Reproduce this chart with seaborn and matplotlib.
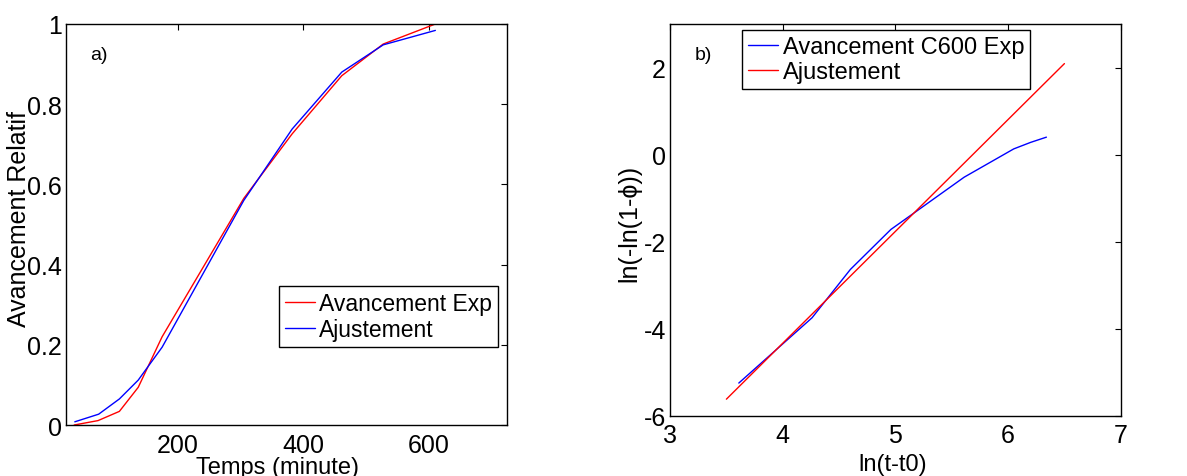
import matplotlib
matplotlib.use("Agg")
import matplotlib.pyplot as plt
import seaborn as sns

# panel a) : relative progress vs time
t_exp = [35, 73, 107, 137, 175, 305, 382, 461, 527, 610]
avc_exp = [0.0, 0.011, 0.034, 0.094, 0.22, 0.565, 0.726, 0.871, 0.95, 1.0]
t_fit = [36, 74, 107, 137, 175, 305, 382, 461, 527, 610]
avc_fit = [0.008, 0.027, 0.065, 0.112, 0.194, 0.56, 0.738, 0.88, 0.948, 0.984]

# panel b) : Avrami linearisation
ln_t_exp = [3.61, 4.26, 4.60, 4.96, 5.15, 5.61, 6.05, 6.20, 6.34]
lnln_exp = [-5.25, -3.75, -2.64, -1.72, -1.37, -0.52, 0.13, 0.28, 0.40]
ln_t_fit = [3.50, 6.50]
lnln_fit = [-5.62, 2.09]

sns.set_style("white")
plt.rcParams['font.family'] = ['Liberation Sans', 'DejaVu Sans']
plt.rcParams['axes.unicode_minus'] = False
plt.rcParams['text.color'] = 'black'
plt.rcParams['axes.labelcolor'] = 'black'
plt.rcParams['xtick.color'] = 'black'
plt.rcParams['ytick.color'] = 'black'
plt.rcParams['xtick.direction'] = 'in'
plt.rcParams['ytick.direction'] = 'in'
plt.rcParams['xtick.top'] = True
plt.rcParams['ytick.right'] = True

fig = plt.figure(figsize=(11.87, 4.77), dpi=100)
ax1 = fig.add_axes([0.0556, 0.1069, 0.3715, 0.8407])
ax2 = fig.add_axes([0.5645, 0.1264, 0.3797, 0.8212])

sns.lineplot(x=t_exp, y=avc_exp, ax=ax1, color='#ff0000', lw=1.0,
             sort=False, estimator=None, label='Avancement Exp')
sns.lineplot(x=t_fit, y=avc_fit, ax=ax1, color='#0000ff', lw=1.0,
             sort=False, estimator=None, label='Ajustement')
ax1.set_xlim(22, 724)
ax1.set_ylim(0, 1)
ax1.set_xticks([200, 400, 600])
ax1.set_xticklabels(['200', '400', '600'])
ax1.set_yticks([0, 0.2, 0.4, 0.6, 0.8, 1])
ax1.set_yticklabels(['0', '0.2', '0.4', '0.6', '0.8', '1'])
ax1.set_xlabel('Temps (minute)', fontsize=17, va='top')
ax1.set_ylabel('Avancement Relatif', fontsize=18, va='center')
ax1.xaxis.set_label_coords(0.48, -0.078)
ax1.yaxis.set_label_coords(-0.107, 0.516)
ax1.text(0.054, 0.924, 'a)', transform=ax1.transAxes, fontsize=14, va='center')
ax1.legend(loc='upper left', bbox_to_anchor=(0.483, 0.347), fontsize=16.5,
           fancybox=False, edgecolor='black', framealpha=1, handlelength=1.3,
           handletextpad=0.2, borderaxespad=0, borderpad=0.25, labelspacing=0.15)

sns.lineplot(x=ln_t_exp, y=lnln_exp, ax=ax2, color='#0000ff', lw=1.0,
             sort=False, estimator=None, label='Avancement C600 Exp')
sns.lineplot(x=ln_t_fit, y=lnln_fit, ax=ax2, color='#ff0000', lw=1.0,
             sort=False, estimator=None, label='Ajustement')
ax2.set_xlim(3, 7)
ax2.set_ylim(-6, 3)
ax2.set_xticks([3, 4, 5, 6, 7])
ax2.set_yticks([-6, -4, -2, 0, 2])
ax2.set_xlabel('ln(t-t0)', fontsize=17, va='top')
ax2.set_ylabel('ln(-ln(1-ϕ))', fontsize=18, va='center')
ax2.xaxis.set_label_coords(0.495, -0.095)
ax2.yaxis.set_label_coords(-0.091, 0.493)
ax2.text(0.055, 0.921, 'b)', transform=ax2.transAxes, fontsize=14, va='center')
ax2.legend(loc='upper left', bbox_to_anchor=(0.159, 0.985), fontsize=17,
           fancybox=False, edgecolor='black', framealpha=1, handlelength=1.3,
           handletextpad=0.2, borderaxespad=0, borderpad=0.25, labelspacing=0.15)

ax1.tick_params(axis='x', pad=6)
ax2.tick_params(axis='x', pad=5)
for ax in (ax1, ax2):
    ax.tick_params(labelsize=18, length=4, width=0.8, color='black')
    ax.tick_params(axis='y', pad=3)
    for sp in ax.spines.values():
        sp.set_visible(True)
        sp.set_color('black')
        sp.set_linewidth(1.0)

fig.savefig('out.png', dpi=100)
